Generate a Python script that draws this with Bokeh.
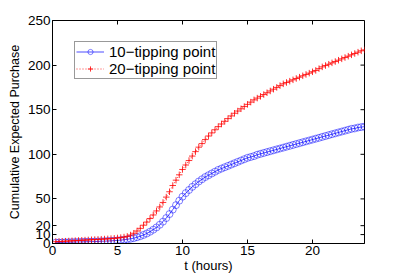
import math
from bokeh.plotting import figure
from bokeh.models import FixedTicker, Legend, LegendItem, Range1d
from bokeh.embed import file_html
from bokeh.resources import INLINE

# time grid (hours)
t = [0.25, 0.5, 0.75, 1.0, 1.25, 1.5, 1.75, 2.0, 2.25, 2.5, 2.75, 3.0,
     3.25, 3.5, 3.75, 4.0, 4.25, 4.5, 4.75, 5.0, 5.25, 5.5, 5.75, 6.0,
     6.25, 6.5, 6.75, 7.0, 7.25, 7.5, 7.75, 8.0, 8.25, 8.5, 8.75, 9.0,
     9.25, 9.5, 9.75, 10.0, 10.25, 10.5, 10.75, 11.0, 11.25, 11.5, 11.75, 12.0,
     12.25, 12.5, 12.75, 13.0, 13.25, 13.5, 13.75, 14.0, 14.25, 14.5, 14.75, 15.0,
     15.25, 15.5, 15.75, 16.0, 16.25, 16.5, 16.75, 17.0, 17.25, 17.5, 17.75, 18.0,
     18.25, 18.5, 18.75, 19.0, 19.25, 19.5, 19.75, 20.0, 20.25, 20.5, 20.75, 21.0,
     21.25, 21.5, 21.75, 22.0, 22.25, 22.5, 22.75, 23.0, 23.25, 23.5, 23.75, 24.0]

tip10 = [1.0, 1.1, 1.2, 1.3, 1.4, 1.5, 1.6, 1.7, 1.8, 1.9, 2.0, 2.1,
         2.2, 2.3, 2.5, 2.6, 2.8, 3.0, 3.2, 3.5, 3.8, 4.2, 4.7, 5.3,
         6.0, 7.0, 8.2, 9.6, 11.2, 13.2, 15.5, 18.0, 21.0, 24.5, 28.5, 33.0,
         38.0, 43.0, 48.0, 52.5, 56.5, 60.0, 63.5, 66.5, 69.5, 72.0, 74.5, 76.5,
         78.5, 80.5, 82.5, 84.0, 85.5, 87.0, 88.5, 90.0, 91.5, 93.0, 94.5, 96.0,
         97.0, 98.0, 99.5, 100.5, 101.5, 102.5, 103.5, 104.5, 105.5, 106.5, 107.5, 108.5,
         109.5, 110.5, 111.5, 112.5, 113.5, 114.5, 115.5, 116.5, 117.5, 118.5, 119.5, 120.5,
         121.5, 122.5, 123.5, 124.5, 125.5, 126.5, 127.5, 128.5, 129.0, 130.0, 130.5, 131.0]

tip20 = [2.0, 2.2, 2.4, 2.6, 2.8, 3.0, 3.2, 3.4, 3.6, 3.8, 4.0, 4.2,
         4.4, 4.6, 4.8, 5.0, 5.2, 5.5, 5.8, 6.2, 6.6, 7.2, 8.0, 9.5,
         11.5, 14.0, 17.0, 20.5, 24.0, 28.0, 32.0, 36.5, 41.0, 46.0, 52.0, 58.0,
         65.0, 71.0, 77.0, 83.0, 88.0, 93.0, 98.0, 103.0, 108.0, 112.0, 116.5, 120.5,
         124.0, 127.5, 131.0, 134.0, 137.0, 140.0, 143.0, 146.0, 148.5, 151.0, 153.5, 156.0,
         158.5, 161.0, 163.0, 165.0, 167.0, 169.0, 171.0, 173.0, 175.0, 177.0, 179.0, 180.5,
         182.0, 183.5, 185.0, 186.5, 188.0, 189.5, 191.0, 192.5, 194.0, 196.0, 198.0, 199.5,
         201.0, 202.5, 204.0, 205.5, 207.0, 208.5, 210.0, 211.5, 213.0, 214.5, 216.0, 217.0]

x_ticks = [0, 5, 10, 15, 20]
y_ticks = [0, 10, 20, 50, 100, 150, 200, 250]
x_lim = [0, 24]
y_lim = [0, 250]
labels = ["10\u2212tipping point", "20\u2212tipping point"]

FONT = "Liberation Sans"

p = figure(width=400, height=275, output_backend="svg", toolbar_location=None,
           x_range=Range1d(*x_lim), y_range=Range1d(*y_lim),
           min_border_left=52, min_border_right=36, min_border_top=20,
           min_border_bottom=29)
p.grid.visible = False
p.outline_line_color = "black"
p.outline_line_width = 1
p.background_fill_color = "white"
p.border_fill_color = "white"

blue = "#0000ff"
red = "#ff0000"

l1 = p.line(t, tip10, line_color=blue, line_width=0.7)
c1 = p.scatter(t, tip10, marker="circle", size=7, line_color=blue,
               fill_color=None, line_width=0.7, line_alpha=0.7)
l2 = p.line(t, tip20, line_color=red, line_width=0.8, line_dash="1 2")
c2 = p.scatter(t, tip20, marker="cross", size=6.5, line_color=red,
               line_width=0.8)

# inward ticks on the top and right edges of the box (clipped to frame)
p.scatter(x_ticks, [y_lim[1]] * len(x_ticks), marker="dash", size=8,
          angle=math.pi / 2, line_color="black", line_width=1)
p.scatter([x_lim[1]] * len(y_ticks), y_ticks, marker="dash", size=8,
          line_color="black", line_width=1)

def style(ax):
    ax.major_tick_in = 4
    ax.major_tick_out = 0
    ax.minor_tick_in = 0
    ax.minor_tick_out = 0
    ax.axis_line_color = "black"
    ax.major_tick_line_color = "black"
    ax.major_label_text_font = FONT
    ax.major_label_text_font_size = "13.5px"
    ax.major_label_text_color = "black"
    ax.axis_label_text_font = FONT
    ax.axis_label_text_font_style = "normal"
    ax.axis_label_text_color = "black"

p.xaxis.axis_label = "t (hours)"
p.yaxis.axis_label = "Cumulative Expected Purchase"
p.xaxis.ticker = FixedTicker(ticks=x_ticks)
p.yaxis.ticker = FixedTicker(ticks=y_ticks)
for ax in p.xaxis:
    style(ax)
    ax.axis_label_text_font_size = "13px"
    ax.major_label_standoff = 2
    ax.axis_label_standoff = 0
for ax in p.yaxis:
    style(ax)
    ax.axis_label_text_font_size = "12.5px"
    ax.major_label_standoff = 2
    ax.axis_label_standoff = 3

legend = Legend(items=[LegendItem(label=labels[0], renderers=[l1, c1]),
                       LegendItem(label=labels[1], renderers=[l2, c2])],
                location=(22, 164))
legend.label_text_font = FONT
legend.label_text_font_size = "15px"
legend.label_text_color = "black"
legend.border_line_color = "#333333"
legend.border_line_width = 1
legend.background_fill_color = "white"
legend.background_fill_alpha = 1
legend.glyph_width = 28
legend.glyph_height = 13
legend.label_height = 13
legend.spacing = 0
legend.padding = 1
legend.margin = 0
legend.label_standoff = 5
p.add_layout(legend, "center")

open("out.html", "w").write(file_html(p, INLINE))
